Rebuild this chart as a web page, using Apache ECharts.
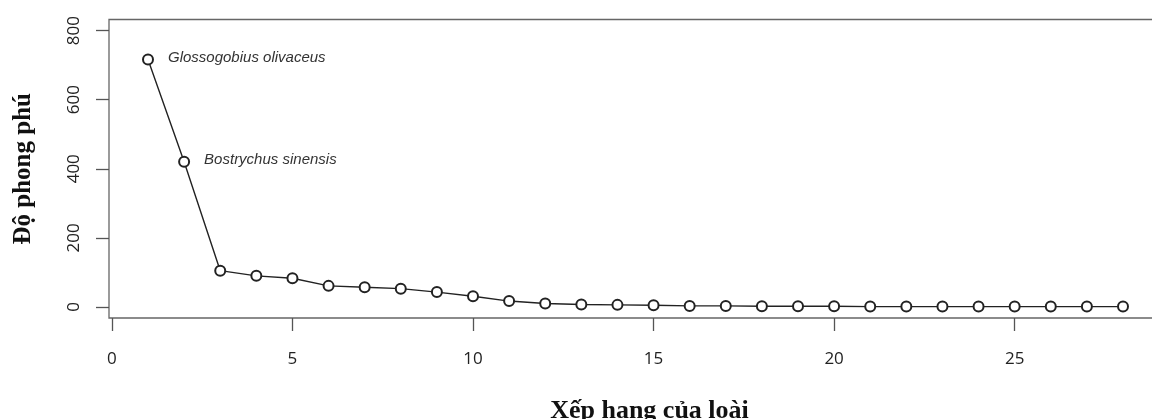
<!DOCTYPE html>
<html>
<head>
<meta charset="utf-8">
<script src="https://cdn.jsdelivr.net/npm/echarts@6/dist/echarts.min.js"></script>
<style>html,body{margin:0;padding:0;background:#fff;}#c{width:1152px;height:419px;}</style>
</head>
<body>
<div id="c"></div>
<script>
const ranks = [1,2,3,4,5,6,7,8,9,10,11,12,13,14,15,16,17,18,19,20,21,22,23,24,25,26,27,28];
const abundance = [716,420,105,90,83,61,57,53,43,31,17,10,7,6,5,3,3,2,2,2,1,1,1,1,1,1,1,1];
const speciesLabels = {1: 'Glossogobius olivaceus', 2: 'Bostrychus sinensis'};
const xTicks = [0,5,10,15,20,25];
const yTicks = [0,200,400,600,800];
const xTitle = 'Xếp hạng của loài';
const yTitle = 'Độ phong phú';

const data = ranks.map((r, i) => {
  const item = {value: [r, abundance[i]]};
  if (speciesLabels[r]) {
    item.label = {show: true, formatter: speciesLabels[r]};
  }
  return item;
});

const chart = echarts.init(document.getElementById('c'), null, {renderer: 'canvas'});
chart.setOption({
  animation: false,
  backgroundColor: '#fff',
  grid: {left: 109, top: 19.5, width: 1053, height: 298.5, outerBoundsMode: 'none', containLabel: false,
         show: true, borderColor: '#666', borderWidth: 1.3, backgroundColor: 'transparent'},
  xAxis: {
    type: 'value', min: -0.08, max: 29.08,
    axisLine: {show: false, onZero: false},
    splitLine: {show: false},
    axisTick: {show: true, inside: false, customValues: xTicks, length: 13, lineStyle: {color: '#555', width: 1.3}},
    axisLabel: {customValues: xTicks, margin: 33, fontFamily: 'Open Sans', fontSize: 17, color: '#222'},
    name: xTitle, nameLocation: 'middle', nameGap: 80,
    nameTextStyle: {fontFamily: 'Liberation Serif', fontWeight: 'bold', fontSize: 26, color: '#111', padding: [0, 0, 0, 28]}
  },
  yAxis: {
    type: 'value', min: -32, max: 832,
    axisLine: {show: false, onZero: false},
    splitLine: {show: false},
    axisTick: {show: true, inside: false, customValues: yTicks, length: 13, lineStyle: {color: '#555', width: 1.3}},
    axisLabel: {customValues: yTicks, rotate: 90, margin: 26, fontFamily: 'Open Sans', fontSize: 17, color: '#222'},
    name: yTitle, nameLocation: 'middle', nameGap: 73, nameRotate: 90,
    nameTextStyle: {fontFamily: 'Liberation Serif', fontWeight: 'bold', fontSize: 25, color: '#111'}
  },
  series: [{
    type: 'line',
    data: data,
    symbol: 'emptyCircle',
    symbolSize: 10,
    showAllSymbol: true,
    itemStyle: {color: '#222', borderWidth: 1.5},
    lineStyle: {color: '#222', width: 1.4},
    label: {show: false, position: 'right', distance: 14, fontFamily: 'Liberation Sans', fontStyle: 'italic', fontSize: 15, color: '#333', offset: [0, -2]},
    emphasis: {disabled: true}
  }]
});
</script>
</body>
</html>
